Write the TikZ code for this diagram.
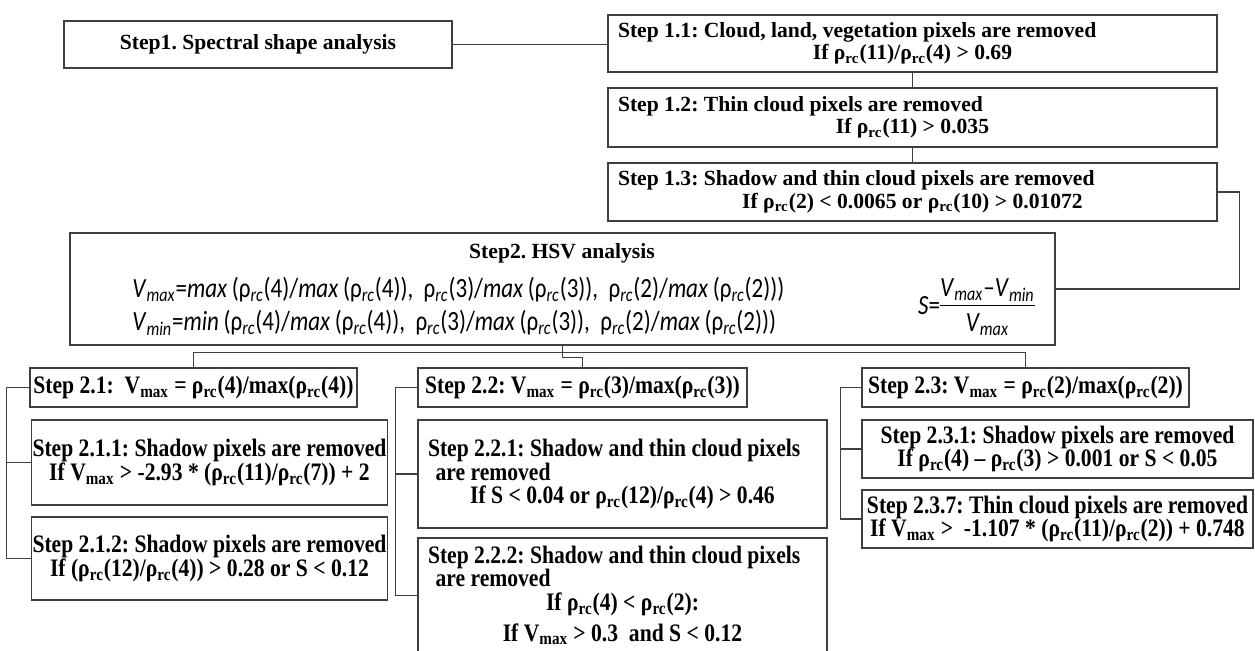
\documentclass[tikz,border=0pt]{standalone}
\usepackage{fontspec}
\setmainfont{Liberation Serif}
\newfontfamily\narrowfont{Liberation Serif}[FakeStretch=0.86]
\newfontfamily\formfont{Carlito}[FakeStretch=0.83]
\usepackage{tikz}
\frenchspacing

\newcommand{\rrc}{ρ\textsubscript{rc}}
\newcommand{\vmx}{V\textsubscript{max}}
\newcommand{\fv}[1]{\textit{V}\textsubscript{\textit{#1}}}
\newcommand{\frc}{ρ\textsubscript{\textit{rc}}}
\newcommand{\midline}[1]{\leavevmode\hbox to \hsize{\hss#1\hss}}
\newcommand{\tightlines}{\lineskiplimit -2pt\relax}
\newcommand{\plainspaces}{\spaceskip 0pt\xspaceskip 0pt\relax}

\tikzset{
	stepbox/.style={draw=black!75, line width=0.8pt, inner xsep=0.02cm, inner ysep=0pt, align=center, font=\bfseries\fontsize{12.3}{12.8}\selectfont},
	subbox/.style={stepbox, font=\narrowfont\bfseries\fontsize{14.3}{13.4}\selectfont\tightlines},
	leftbox/.style={subbox, align=left, inner xsep=0.2cm},
	link/.style={draw=black!75, line width=0.8pt},
	formula/.style={inner sep=0pt, font=\formfont\fontsize{15.8}{18}\selectfont}
}

\begin{document}
\begin{tikzpicture}
				\useasboundingbox (0, 0) rectangle (25.1, -13.02);
				
				% Step 1 and its three tests
				\node[stepbox, minimum width=7.76cm, minimum height=0.94cm] (s1) at (5.16, -0.89) {Step1. Spectral shape analysis};
				\node[stepbox, align=left, inner xsep=0.2cm, text width=11.78cm, minimum height=1.14cm] (s11) at (18.25, -0.87) {\plainspaces\mbox{Step 1.1: Cloud, land, vegetation pixels are removed}\\ \midline{If \rrc(11)/\rrc(4) > 0.69}};
				\node[stepbox, align=left, inner xsep=0.2cm, text width=11.78cm, minimum height=1.18cm] (s12) at (18.25, -2.35) {\plainspaces\mbox{Step 1.2: Thin cloud pixels are removed}\\ \midline{If \rrc(11) > 0.035}};
				\node[stepbox, align=left, inner xsep=0.2cm, text width=11.78cm, minimum height=1.16cm] (s13) at (18.25, -3.84) {\plainspaces\mbox{Step 1.3: Shadow and thin cloud pixels are removed}\\ \midline{If \rrc(2) < 0.0065 or \rrc(10) > 0.01072}};
				
				% Step 2 box and the formulas inside it
				\node[stepbox, minimum width=19.7cm, minimum height=2.24cm] (s2) at (11.25, -5.78) {};
				\node[stepbox, draw=none] (s2title) at (11.24, -5.06) {Step2. HSV analysis};
				\node[formula, anchor=west] (vmax) at (2.64, -5.80) {\fv{max}=\textit{max}\,(\frc(4)/\textit{max}\,(\frc(4)),\ \ \frc(3)/\textit{max}\,(\frc(3)),\ \ \frc(2)/\textit{max}\,(\frc(2)))};
				\node[formula, anchor=west] (vmin) at (2.64, -6.46) {\fv{min}=\textit{min}\,(\frc(4)/\textit{max}\,(\frc(4)),\ \ \frc(3)/\textit{max}\,(\frc(3)),\ \ \frc(2)/\textit{max}\,(\frc(2)))};
				\node[formula, anchor=east] (sat) at (20.70, -6.16) {\textit{S}=\begin{tabular}{@{}c@{}}\fv{max}–\fv{min}\\[-1pt]\hline\rule{0pt}{15pt}\fv{max}\end{tabular}};
				
				% Step 2.1 column
				\node[subbox, minimum width=6.54cm, minimum height=0.78cm] (s21) at (3.87, -7.75) {Step 2.1:~ \vmx{} = \rrc(4)/max(\rrc(4))};
				\node[subbox, minimum width=7.1cm, minimum height=1.7cm] (s211) at (4.19, -9.25) {Step 2.1.1: Shadow pixels are removed\\ If \vmx{} > -2.93 * (\rrc(11)/\rrc(7)) + 2};
				\node[subbox, minimum width=7.1cm, minimum height=1.66cm] (s212) at (4.19, -11.17) {Step 2.1.2: Shadow pixels are removed\\ If (\rrc(12)/\rrc(4)) > 0.28 or S < 0.12};
				
				% Step 2.2 column
				\node[subbox, minimum width=6.58cm, minimum height=0.78cm] (s22) at (11.65, -7.75) {Step 2.2: \vmx{} = \rrc(3)/max(\rrc(3))};
				\node[leftbox, text width=7.78cm, minimum height=2.16cm] (s221) at (12.45, -9.48) {\plainspaces\mbox{Step 2.2.1: Shadow and thin cloud pixels}\\ \mbox{\hspace*{0.3em}are removed}\\ \midline{If S < 0.04 or \rrc(12)/\rrc(4) > 0.46}};
				\node[leftbox, text width=7.78cm, minimum height=2.3cm] (s222) at (12.45, -11.91) {\plainspaces\mbox{Step 2.2.2: Shadow and thin cloud pixels}\\ \mbox{\hspace*{0.3em}are removed}\\ \midline{If \rrc(4) < \rrc(2):}\\[4pt] \midline{If \vmx{} > 0.3~ and S < 0.12}};
				
				% Step 2.3 column
				\node[subbox, minimum width=6.54cm, minimum height=0.78cm] (s23) at (20.51, -7.75) {Step 2.3: \vmx{} = \rrc(2)/max(\rrc(2))};
				\node[subbox, minimum width=7.82cm, minimum height=1.16cm] (s231) at (21.15, -8.98) {Step 2.3.1: Shadow pixels are removed\\ If \rrc(4) – \rrc(3) > 0.001 or S < 0.05};
				\node[subbox, minimum width=7.82cm, minimum height=1.16cm] (s237) at (21.15, -10.38) {Step 2.3.7: Thin cloud pixels are removed\\ If \vmx{} >~ -1.107 * (\rrc(11)/\rrc(2)) + 0.748};
				
				% Lines
				\draw[link] (s1.east) -- (s1.east -| s11.west);
				\draw[link] (s11.south) -- (s12.north);
				\draw[link] (s12.south) -- (s13.north);
				\draw[link] (s13.east) -- ++(0.44, 0) |- (s2.east);
				\draw[link] (s2.south) -- ++(0, -0.24) -| (s22.north); % down to step 2.2
				\draw[link] (s21.north) -- ++(0, 0.3) -| (s23.north); % bus over the three columns
				
				% brackets on the left of each column
				\draw[link] (s21.west) -- ++(-0.46, 0) |- (s212.west);
				\draw[link] (s211.west) -- ([xshift=-0.46cm]s21.west |- s211.west);
				\draw[link] (s22.west) -- ++(-0.44, 0) |- (s222.west);
				\draw[link] (s221.west) -- ([xshift=-0.44cm]s22.west |- s221.west);
				\draw[link] (s23.west) -- ++(-0.42, 0) |- (s237.west);
				\draw[link] (s231.west) -- ([xshift=-0.42cm]s23.west |- s231.west);
			\end{tikzpicture}
\end{document}
